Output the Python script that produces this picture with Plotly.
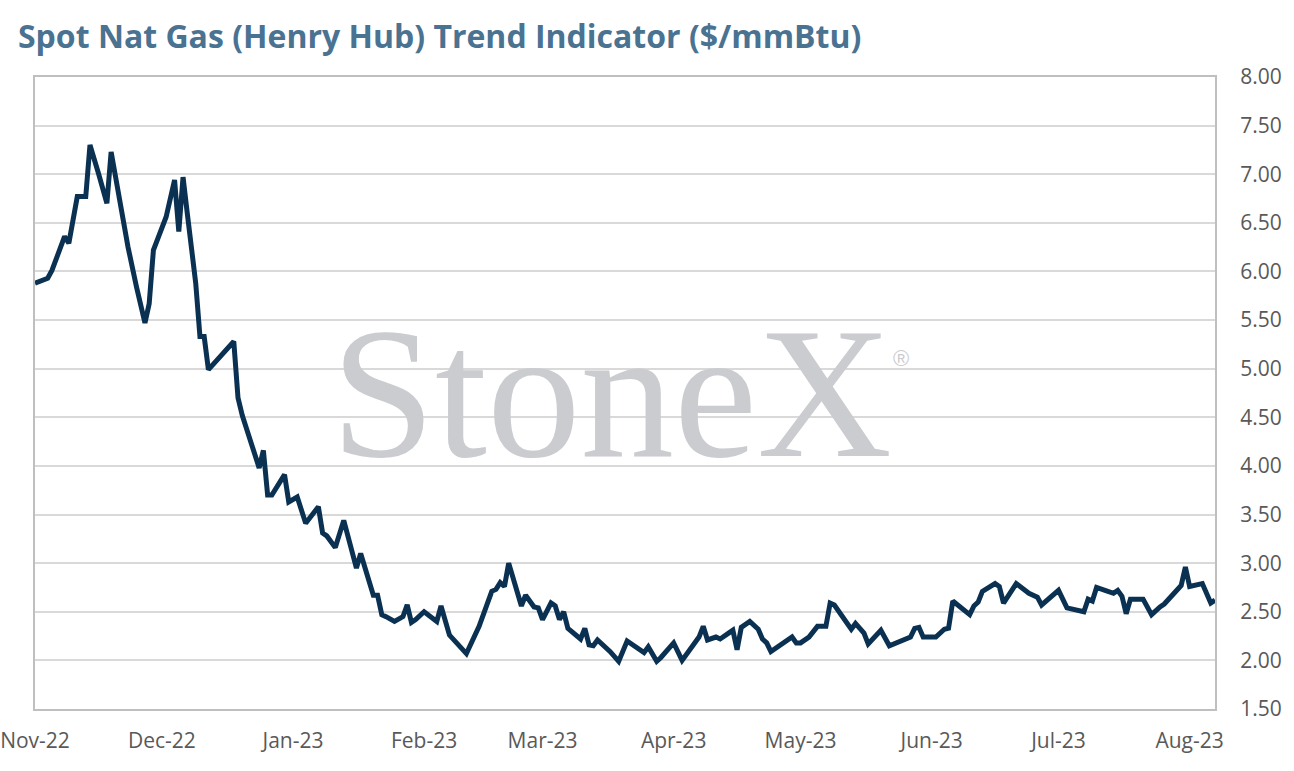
import plotly.graph_objects as go
import pandas as pd

# spot henry hub trend indicator
dates = [
    "2022-11-01", "2022-11-04", "2022-11-05", "2022-11-08", "2022-11-09", "2022-11-11",
    "2022-11-13", "2022-11-14", "2022-11-16", "2022-11-18", "2022-11-19", "2022-11-21",
    "2022-11-23", "2022-11-25", "2022-11-27", "2022-11-28", "2022-11-29",
    "2022-12-02", "2022-12-04", "2022-12-05", "2022-12-06", "2022-12-07", "2022-12-09",
    "2022-12-10", "2022-12-11", "2022-12-12", "2022-12-18", "2022-12-19", "2022-12-20",
    "2022-12-24", "2022-12-25", "2022-12-26", "2022-12-27", "2022-12-30", "2022-12-31",
    "2023-01-02", "2023-01-04", "2023-01-07", "2023-01-08", "2023-01-09", "2023-01-11",
    "2023-01-13", "2023-01-16", "2023-01-17", "2023-01-20", "2023-01-21", "2023-01-22",
    "2023-01-23", "2023-01-25", "2023-01-27", "2023-01-28", "2023-01-29", "2023-01-30",
    "2023-02-01", "2023-02-04", "2023-02-05", "2023-02-06", "2023-02-07", "2023-02-11",
    "2023-02-14", "2023-02-17", "2023-02-18", "2023-02-19", "2023-02-20", "2023-02-21",
    "2023-02-24", "2023-02-25", "2023-02-27", "2023-02-28",
    "2023-03-01", "2023-03-03", "2023-03-04", "2023-03-05", "2023-03-06", "2023-03-07",
    "2023-03-10", "2023-03-11", "2023-03-12", "2023-03-13", "2023-03-14", "2023-03-17",
    "2023-03-19", "2023-03-21", "2023-03-25", "2023-03-26", "2023-03-28", "2023-03-29",
    "2023-04-01", "2023-04-03", "2023-04-05", "2023-04-07", "2023-04-08", "2023-04-09",
    "2023-04-11", "2023-04-12", "2023-04-14", "2023-04-15", "2023-04-16", "2023-04-17",
    "2023-04-19", "2023-04-21", "2023-04-22", "2023-04-23", "2023-04-24", "2023-04-29",
    "2023-04-30",
    "2023-05-01", "2023-05-03", "2023-05-05", "2023-05-07", "2023-05-08", "2023-05-09",
    "2023-05-13", "2023-05-14", "2023-05-16", "2023-05-17", "2023-05-20", "2023-05-22",
    "2023-05-27", "2023-05-28", "2023-05-29", "2023-05-30",
    "2023-06-02", "2023-06-04", "2023-06-05", "2023-06-06", "2023-06-10", "2023-06-11",
    "2023-06-12", "2023-06-13", "2023-06-16", "2023-06-17", "2023-06-18", "2023-06-21",
    "2023-06-24", "2023-06-26", "2023-06-27",
    "2023-07-01", "2023-07-03", "2023-07-07", "2023-07-08", "2023-07-09", "2023-07-10",
    "2023-07-12", "2023-07-14", "2023-07-15", "2023-07-16", "2023-07-17", "2023-07-18",
    "2023-07-21", "2023-07-23", "2023-07-25", "2023-07-26", "2023-07-30", "2023-07-31",
    "2023-08-01", "2023-08-04", "2023-08-06", "2023-08-07",
]
prices = [
    5.88, 5.93, 6.01, 6.36, 6.29, 6.77,
    6.77, 7.30, 7.01, 6.70, 7.23, 6.73,
    6.25, 5.84, 5.47, 5.67, 6.22,
    6.56, 6.94, 6.41, 6.97, 6.60, 5.88,
    5.33, 5.33, 4.99, 5.28, 4.70, 4.52,
    3.98, 4.16, 3.70, 3.70, 3.91, 3.63,
    3.68, 3.41, 3.58, 3.31, 3.28, 3.16,
    3.44, 2.95, 3.10, 2.67, 2.67, 2.47,
    2.45, 2.40, 2.45, 2.57, 2.39, 2.42,
    2.50, 2.40, 2.56, 2.43, 2.26, 2.07,
    2.35, 2.71, 2.73, 2.80, 2.76, 3.00,
    2.56, 2.67, 2.55, 2.54,
    2.42, 2.59, 2.56, 2.42, 2.50, 2.33,
    2.22, 2.33, 2.16, 2.15, 2.21, 2.09,
    1.99, 2.20, 2.08, 2.14, 1.99, 2.03,
    2.18, 2.00, 2.12, 2.24, 2.35, 2.21,
    2.24, 2.22, 2.28, 2.31, 2.11, 2.34,
    2.40, 2.32, 2.22, 2.18, 2.09, 2.24,
    2.18,
    2.18, 2.24, 2.35, 2.35, 2.59, 2.57,
    2.32, 2.38, 2.28, 2.17, 2.31, 2.15,
    2.24, 2.33, 2.34, 2.24,
    2.24, 2.32, 2.33, 2.61, 2.47, 2.56,
    2.60, 2.71, 2.79, 2.76, 2.59, 2.79,
    2.69, 2.65, 2.57,
    2.72, 2.54, 2.50, 2.63, 2.61, 2.75,
    2.72, 2.69, 2.72, 2.66, 2.48, 2.63,
    2.63, 2.47, 2.55, 2.58, 2.77, 2.96,
    2.76, 2.79, 2.59, 2.62,
]

month_ticks = ["2022-11-01", "2022-12-01", "2023-01-01", "2023-02-01", "2023-03-01",
               "2023-04-01", "2023-05-01", "2023-06-01", "2023-07-01", "2023-08-01"]
y_ticks = [1.5, 2.0, 2.5, 3.0, 3.5, 4.0, 4.5, 5.0, 5.5, 6.0, 6.5, 7.0, 7.5, 8.0]

df = pd.DataFrame({"date": pd.to_datetime(dates), "price": prices})

fig = go.Figure()
fig.add_trace(go.Scatter(
    x=df["date"], y=df["price"], mode="lines",
    line=dict(color="#0b3152", width=5),
    hoverinfo="x+y",
))

# watermark
fig.add_annotation(
    x=0.4885, y=4.76, xref="paper", yref="y",
    text="StoneX", showarrow=False,
    font=dict(family="Liberation Serif", size=187, color="#cbccd0"),
    xanchor="center", yanchor="middle",
)
fig.add_annotation(
    x=0.734, y=5.10, xref="paper", yref="y",
    text="®", showarrow=False,
    font=dict(family="Liberation Sans", size=22, color="#cbccd0"),
    xanchor="center", yanchor="middle",
)

fig.update_layout(
    width=1294, height=771,
    margin=dict(l=35, r=79, t=77, b=62, autoexpand=False),
    paper_bgcolor="white", plot_bgcolor="white",
    showlegend=False,
    title=dict(
        text="<b>Spot Nat Gas (Henry Hub) Trend Indicator ($/mmBtu)</b>",
        x=0.0139, xanchor="left", y=0.9526, yanchor="middle",
        font=dict(family="Open Sans", size=32, color="#4a7291"),
    ),
    font=dict(family="Open Sans", size=21, color="#595959"),
)
fig.update_xaxes(
    range=["2022-11-01", "2023-08-07"],
    tickvals=month_ticks, tickformat="%b-%y",
    showgrid=False, ticks="", ticklabelstandoff=12,
    ticklabeloverflow="allow",
    showline=True, linecolor="#bfbfbf", linewidth=2, mirror=True,
    zeroline=False, automargin=False,
)
fig.update_yaxes(
    side="right", range=[1.5, 8.0],
    tickvals=y_ticks, tickformat=".2f",
    showgrid=True, gridcolor="#d9d9d9", gridwidth=2,
    showline=True, linecolor="#bfbfbf", linewidth=2, mirror=True,
    ticks="", ticklabelstandoff=19, zeroline=False, automargin=False,
)

# drop the default page margin so the figure sits at the window corner
fig.write_html("out.html", config={"displayModeBar": False},
               post_script="document.body.style.margin = '0';")
